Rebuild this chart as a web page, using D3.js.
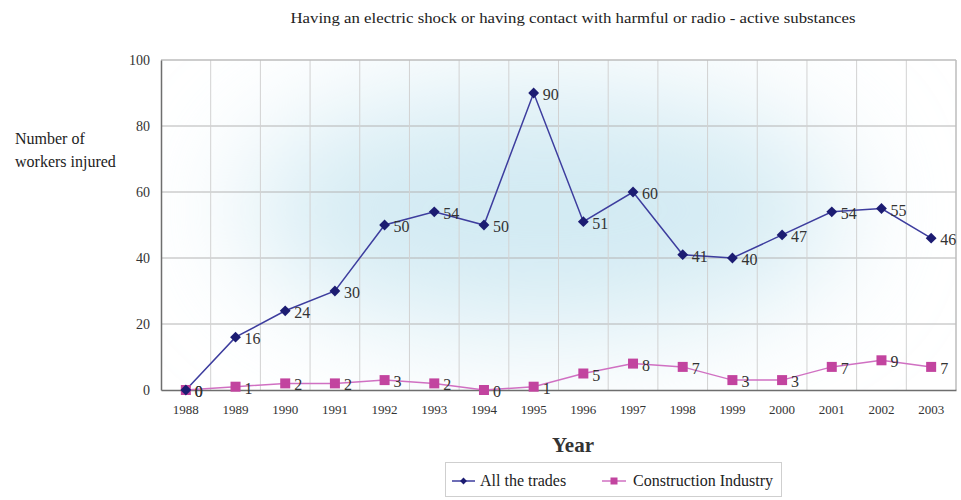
<!DOCTYPE html>
<html>
<head>
<meta charset="utf-8">
<script src="https://cdn.jsdelivr.net/npm/d3@7"></script>
<style>
  html, body { margin: 0; padding: 0; background: #fff; }
  svg { display: block; }
</style>
</head>
<body>
<svg id="chart" width="961" height="500"></svg>
<script>
// Injuries from electric shock or contact with harmful / radioactive substances
const years = ["1988","1989","1990","1991","1992","1993","1994","1995","1996","1997","1998","1999","2000","2001","2002","2003"];
const allTrades = [0,16,24,30,50,54,50,90,51,60,41,40,47,54,55,46];
const construction = [0,1,2,2,3,2,0,1,5,8,7,3,3,7,9,7];
const yTicks = [0,20,40,60,80,100];
const seriesNames = ["All the trades", "Construction Industry"];

const SERIF = "'Liberation Serif', 'Times New Roman', serif";
const svg = d3.select("#chart");
const m = { left: 161, right: 956, top: 60, bottom: 390 };

const x = d3.scaleBand().domain(years).range([m.left, m.right]);
const y = d3.scaleLinear().domain([0, 100]).range([m.bottom, m.top]);

// soft blue glow behind the plot
const defs = svg.append("defs");
defs.append("clipPath").attr("id", "plotClip")
  .append("rect").attr("x", m.left).attr("y", m.top)
  .attr("width", m.right - m.left).attr("height", m.bottom - m.top);
const blur = defs.append("filter").attr("id", "glow")
  .attr("x", "-50%").attr("y", "-50%").attr("width", "200%").attr("height", "200%");
blur.append("feGaussianBlur").attr("stdDeviation", 60);

const bg = svg.append("g").attr("clip-path", "url(#plotClip)");
bg.append("ellipse")
  .attr("cx", 545).attr("cy", 210).attr("rx", 300).attr("ry", 120)
  .attr("fill", "#d2eaf3").attr("filter", "url(#glow)");

// grid
const grid = svg.append("g");
grid.selectAll("line.h").data(yTicks.filter(d => d > 0 && d < 100)).join("line")
  .attr("x1", m.left).attr("x2", m.right)
  .attr("y1", d => y(d)).attr("y2", d => y(d))
  .attr("stroke", "#b4b4b4").attr("stroke-width", 1);
grid.selectAll("line.v").data(years.slice(1)).join("line")
  .attr("x1", d => x(d)).attr("x2", d => x(d))
  .attr("y1", m.top).attr("y2", m.bottom)
  .attr("stroke", "#d2d2d2").attr("stroke-width", 1);

// frame
svg.append("line").attr("x1", m.left).attr("x2", m.right).attr("y1", m.top).attr("y2", m.top)
  .attr("stroke", "#bdbdbd").attr("stroke-width", 1.5);
svg.append("line").attr("x1", m.right).attr("x2", m.right).attr("y1", m.top).attr("y2", m.bottom)
  .attr("stroke", "#bdbdbd").attr("stroke-width", 1.5);

// axes
const yAxis = svg.append("g").attr("transform", `translate(${m.left},0)`)
  .call(d3.axisLeft(y).tickValues(yTicks).tickSize(0).tickPadding(11));
yAxis.select(".domain").attr("stroke", "#6e6e6e").attr("stroke-width", 1.5);
yAxis.selectAll("text").attr("font-size", 14).attr("fill", "#333");

const xAxis = svg.append("g").attr("transform", `translate(0,${m.bottom})`)
  .call(d3.axisBottom(x).tickSize(0).tickPadding(15));
xAxis.select(".domain").attr("stroke", "#6e6e6e").attr("stroke-width", 1.5);
xAxis.selectAll("text").attr("font-size", 13).attr("fill", "#333");

// series
const cx = d => x(d) + x.bandwidth() / 2;
const line = d3.line().x(d => cx(d.year)).y(d => y(d.v));

const allData = years.map((yr, i) => ({ year: yr, v: allTrades[i] }));
const conData = years.map((yr, i) => ({ year: yr, v: construction[i] }));

const navyLine = "#3d3d9e", navyMark = "#1c1c72";
const pinkLine = "#d070c2", pinkMark = "#c2449f";

svg.append("path").datum(conData).attr("d", line)
  .attr("fill", "none").attr("stroke", pinkLine).attr("stroke-width", 1.5);
svg.append("path").datum(allData).attr("d", line)
  .attr("fill", "none").attr("stroke", navyLine).attr("stroke-width", 1.5);

svg.append("g").selectAll("rect").data(conData).join("rect")
  .attr("x", d => cx(d.year) - 5).attr("y", d => y(d.v) - 5)
  .attr("width", 10).attr("height", 10).attr("fill", pinkMark);

const diamond = d3.symbol().type(d3.symbolDiamond2).size(75);
svg.append("g").selectAll("path").data(allData).join("path")
  .attr("d", diamond)
  .attr("transform", d => `translate(${cx(d.year)},${y(d.v)})`)
  .attr("fill", navyMark);

// value labels
const labelG = svg.append("g").attr("font-size", 16).attr("fill", "#333");
labelG.selectAll("text.a").data(allData).join("text")
  .attr("x", d => cx(d.year) + 9).attr("y", d => y(d.v) + 7)
  .text(d => d.v);
labelG.selectAll("text.c").data(conData).join("text")
  .attr("x", d => cx(d.year) + 9).attr("y", d => y(d.v) + 7)
  .text(d => d.v);

// titles
svg.append("text").attr("x", 573).attr("y", 23).attr("text-anchor", "middle")
  .attr("font-size", 15.5).attr("fill", "#222")
  .attr("textLength", 565).attr("lengthAdjust", "spacingAndGlyphs")
  .text("Having an electric shock or having contact with harmful or radio - active substances");

svg.append("text").attr("x", 573).attr("y", 452).attr("text-anchor", "middle")
  .attr("font-size", 21).attr("font-weight", "bold").attr("fill", "#333")
  .text("Year");

const yl = svg.append("text").attr("font-size", 16).attr("fill", "#222");
yl.append("tspan").attr("x", 15).attr("y", 144).text("Number of");
yl.append("tspan").attr("x", 15).attr("y", 167).text("workers injured");

// legend
const lg = svg.append("g");
lg.append("rect").attr("x", 445.5).attr("y", 462.5).attr("width", 336).attr("height", 34)
  .attr("fill", "#fff").attr("stroke", "#cfcfcf");
lg.append("line").attr("x1", 452).attr("x2", 475).attr("y1", 481).attr("y2", 481)
  .attr("stroke", navyLine).attr("stroke-width", 1.5);
lg.append("path").attr("d", d3.symbol().type(d3.symbolDiamond2).size(30))
  .attr("transform", "translate(463.5,481)").attr("fill", navyMark);
lg.append("text").attr("x", 480).attr("y", 486).attr("font-size", 16).attr("fill", "#222")
  .text(seriesNames[0]);
lg.append("line").attr("x1", 602).attr("x2", 626).attr("y1", 481).attr("y2", 481)
  .attr("stroke", pinkLine).attr("stroke-width", 1.5);
lg.append("rect").attr("x", 610.5).attr("y", 477.5).attr("width", 7).attr("height", 7)
  .attr("fill", pinkMark);
lg.append("text").attr("x", 633).attr("y", 486).attr("font-size", 16).attr("fill", "#222")
  .text(seriesNames[1]);

// one serif face for every label, overriding the axis defaults
svg.selectAll("text").attr("font-family", SERIF).style("font-family", SERIF);
</script>
</body>
</html>
